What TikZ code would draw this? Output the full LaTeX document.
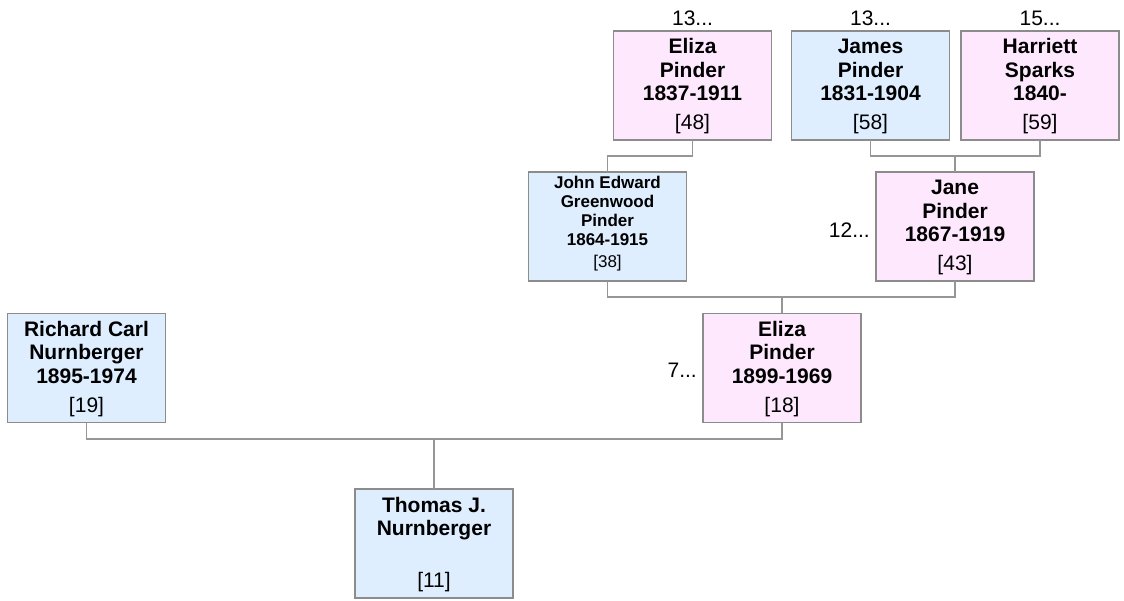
\documentclass[tikz,border=0pt]{standalone}
\usepackage{fontspec}
\setmainfont{Liberation Sans}
\definecolor{mblue}{RGB}{222,238,255}
\definecolor{fpink}{RGB}{253,232,253}
\definecolor{edgegray}{RGB}{150,150,150}
\definecolor{boxgray}{RGB}{140,140,140}
\newcommand\pnames[2]{\parbox[t]{#1}{\centering #2}}
\begin{document}
\begin{tikzpicture}[x=1pt,y=-1pt,
  box/.style={draw=boxgray,line width=1.5pt,minimum width=158pt,minimum height=109pt,inner sep=0pt,outer sep=0pt},
  male/.style={box,fill=mblue},
  female/.style={box,fill=fpink},
  names/.style={anchor=base,inner sep=0pt,font=\fontsize{21}{23.5}\selectfont\bfseries},
  smallnames/.style={anchor=base,inner sep=0pt,font=\fontsize{17}{19}\selectfont\bfseries},
  idlab/.style={anchor=base,inner sep=0pt,font=\fontsize{21}{24}\selectfont},
  smallid/.style={anchor=base,inner sep=0pt,font=\fontsize{17}{19}\selectfont},
  lab/.style={inner sep=0pt,font=\fontsize{21}{24}\selectfont},
  conn/.style={draw=edgegray,line width=1.5pt}]
\useasboundingbox (0,0) rectangle (1124,601);

% boxes
\node[male]   (rich) at (86.5,368) {};
\node[male]   (thom) at (434,543.5) {};
\node[female] (el99) at (782,368) {};
\node[male]   (john) at (607.5,226.5) {};
\node[female] (jane) at (955,226.5) {};
\node[female] (el37) at (692.5,85.5) {};
\node[male]   (jame) at (870.5,85.5) {};
\node[female] (harr) at (1040,85.5) {};

% names
\node[names] (richN) at ([yshift=-23pt]rich.north) {\pnames{156pt}{Richard Carl\\Nurnberger\\1895-1974}};
\node[names] (thomN) at ([yshift=-23pt]thom.north) {\pnames{156pt}{Thomas J.\\Nurnberger}};
\node[names] (el99N) at ([yshift=-23pt]el99.north) {\pnames{156pt}{Eliza\\Pinder\\1899-1969}};
\node[smallnames] (johnN) at ([yshift=-16.5pt]john.north) {\pnames{156pt}{John Edward\\Greenwood\\Pinder\\1864-1915}};
\node[names] (janeN) at ([yshift=-23pt]jane.north) {\pnames{156pt}{Jane\\Pinder\\1867-1919}};
\node[names] (el37N) at ([yshift=-23pt]el37.north) {\pnames{156pt}{Eliza\\Pinder\\1837-1911}};
\node[names] (jameN) at ([yshift=-23pt]jame.north) {\pnames{156pt}{James\\Pinder\\1831-1904}};
\node[names] (harrN) at ([yshift=-23pt]harr.north) {\pnames{156pt}{Harriett\\Sparks\\1840-}};

% ids
\node[idlab] (richI) at ([yshift=10.5pt]rich.south) {[19]};
\node[idlab] (thomI) at ([yshift=10.5pt]thom.south) {[11]};
\node[idlab] (el99I) at ([yshift=10.5pt]el99.south) {[18]};
\node[smallid] (johnI) at ([yshift=13.5pt]john.south) {[38]};
\node[idlab] (janeI) at ([yshift=10.5pt]jane.south) {[43]};
\node[idlab] (el37I) at ([yshift=10.5pt]el37.south) {[48]};
\node[idlab] (jameI) at ([yshift=10.5pt]jame.south) {[58]};
\node[idlab] (harrI) at ([yshift=10.5pt]harr.south) {[59]};

% continuation labels
\node[lab,anchor=base] (el37L) at ([yshift=5pt]el37.north) {13...};
\node[lab,anchor=base] (jameL) at ([yshift=5pt]jame.north) {13...};
\node[lab,anchor=base] (harrL) at ([yshift=5pt]harr.north) {15...};
\node[lab,anchor=east] (janeL) at ([xshift=-6pt,yshift=-3.5pt]jane.west) {12...};
\node[lab,anchor=east] (el99L) at ([xshift=-6pt,yshift=-2pt]el99.west) {7...};

% connectors
\coordinate (j1) at (434,439);
\coordinate (j2) at (782,297);
\coordinate (j4) at (955,156);
\draw[conn] (rich.south) |- (j1) -| (el99.south);
\draw[conn] (j1) -- (thom.north);
\draw[conn] (john.south) |- (j2) -| (jane.south);
\draw[conn] (j2) -- (el99.north);
\draw[conn] (el37.south) -- ++(0,16) -| (john.north);
\draw[conn] (jame.south) |- (j4) -| (harr.south);
\draw[conn] (j4) -- (jane.north);
\end{tikzpicture}
\end{document}
